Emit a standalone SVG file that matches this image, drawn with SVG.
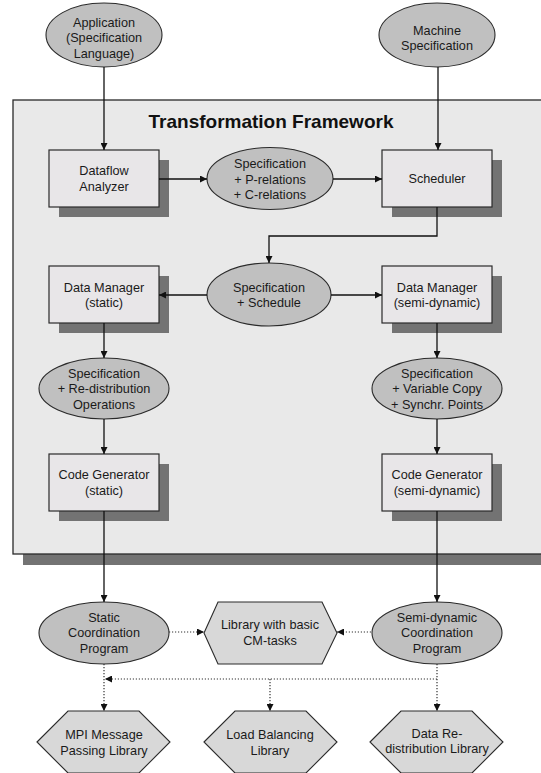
<svg xmlns="http://www.w3.org/2000/svg" width="541" height="773" viewBox="0 0 541 773">
<defs>
<marker id="ah" viewBox="0 0 10 10" refX="10" refY="5" markerWidth="7" markerHeight="7" markerUnits="userSpaceOnUse" orient="auto"><path d="M0,0 L10,5 L0,10 z" fill="#111"/></marker>
<style>
.t{font-family:"Liberation Sans",Arial,sans-serif;font-size:12.7px;fill:#1a1a1a;text-anchor:middle}
.title{font-family:"Liberation Sans",Arial,sans-serif;font-size:19px;font-weight:bold;fill:#111;text-anchor:middle}
.box{fill:#e8e6e8;stroke:#2a2a2a;stroke-width:1.2}
.sh{fill:#737373}
.ell{fill:#c0c0c0;stroke:#2a2a2a;stroke-width:1.1}
.hex{fill:#d8d8d8;stroke:#2a2a2a;stroke-width:1.1}
.ln{fill:none;stroke:#111;stroke-width:1.3}
.dt{fill:none;stroke:#333;stroke-width:1.2;stroke-dasharray:1.2 1.8}
</style>
</defs>
<rect width="541" height="773" fill="#fff"/>
<g id="framework">
<rect class="sh" x="23" y="110" width="530" height="455"/>
<rect x="13" y="100" width="540" height="454" fill="#e9e9e9" stroke="#2a2a2a" stroke-width="1.3"/>
<text class="title" x="271" y="128">Transformation Framework</text>
</g>
<g id="application">
<ellipse class="ell" cx="104" cy="35" rx="58" ry="32"/>
<text class="t" x="104" y="26.5">Application</text>
<text class="t" x="104" y="42">(Specification</text>
<text class="t" x="104" y="57.5">Language)</text>
</g>
<g id="machine">
<ellipse class="ell" cx="437" cy="35" rx="58" ry="32"/>
<text class="t" x="437" y="34.5">Machine</text>
<text class="t" x="437" y="50">Specification</text>
</g>
<g id="dataflow">
<rect class="sh" x="59" y="160" width="110" height="57"/>
<rect class="box" x="49" y="150" width="110" height="57"/>
<text class="t" x="104" y="175">Dataflow</text>
<text class="t" x="104" y="191">Analyzer</text>
</g>
<g id="spec-prel">
<ellipse class="ell" cx="270" cy="178.5" rx="63" ry="31"/>
<text class="t" x="270" y="167.5">Specification</text>
<text class="t" x="270" y="183.5">+ P-relations</text>
<text class="t" x="270" y="199">+ C-relations</text>
</g>
<g id="scheduler">
<rect class="sh" x="392" y="160" width="110" height="57"/>
<rect class="box" x="382" y="150" width="110" height="57"/>
<text class="t" x="437" y="183">Scheduler</text>
</g>
<g id="spec-schedule">
<ellipse class="ell" cx="269" cy="294.5" rx="62" ry="31.5"/>
<text class="t" x="269" y="291.5">Specification</text>
<text class="t" x="269" y="307">+ Schedule</text>
</g>
<g id="dm-static">
<rect class="sh" x="59" y="276" width="110" height="57"/>
<rect class="box" x="49" y="266" width="110" height="57"/>
<text class="t" x="104" y="291.5">Data Manager</text>
<text class="t" x="104" y="307">(static)</text>
</g>
<g id="dm-semi">
<rect class="sh" x="392" y="276" width="110" height="57"/>
<rect class="box" x="382" y="266" width="110" height="57"/>
<text class="t" x="437" y="291.5">Data Manager</text>
<text class="t" x="437" y="307">(semi-dynamic)</text>
</g>
<g id="spec-redist">
<ellipse class="ell" cx="104" cy="388.5" rx="65" ry="30.5"/>
<text class="t" x="104" y="377.5">Specification</text>
<text class="t" x="104" y="393">+ Re-distribution</text>
<text class="t" x="104" y="408.5">Operations</text>
</g>
<g id="spec-varcopy">
<ellipse class="ell" cx="437" cy="388.5" rx="65" ry="30.5"/>
<text class="t" x="437" y="377.5">Specification</text>
<text class="t" x="437" y="393">+ Variable Copy</text>
<text class="t" x="437" y="408.5">+ Synchr. Points</text>
</g>
<g id="cg-static">
<rect class="sh" x="59" y="464" width="110" height="57"/>
<rect class="box" x="49" y="454" width="110" height="57"/>
<text class="t" x="104" y="478.5">Code Generator</text>
<text class="t" x="104" y="494.5">(static)</text>
</g>
<g id="cg-semi">
<rect class="sh" x="392" y="464" width="110" height="57"/>
<rect class="box" x="382" y="454" width="110" height="57"/>
<text class="t" x="437" y="478.5">Code Generator</text>
<text class="t" x="437" y="494.5">(semi-dynamic)</text>
</g>
<g id="static-coord">
<ellipse class="ell" cx="104" cy="633" rx="65" ry="31"/>
<text class="t" x="104" y="621.5">Static</text>
<text class="t" x="104" y="637">Coordination</text>
<text class="t" x="104" y="652.5">Program</text>
</g>
<g id="cm-lib">
<polygon class="hex" points="204,633 218,602 322,602 337,633 322,664 218,664"/>
<text class="t" x="270" y="628.5">Library with basic</text>
<text class="t" x="270" y="644.5">CM-tasks</text>
</g>
<g id="semi-coord">
<ellipse class="ell" cx="437" cy="633" rx="65" ry="31"/>
<text class="t" x="437" y="621.5">Semi-dynamic</text>
<text class="t" x="437" y="637">Coordination</text>
<text class="t" x="437" y="652.5">Program</text>
</g>
<g id="mpi-lib">
<polygon class="hex" points="37,742 68,711 139,711 170,742 139,773 68,773"/>
<text class="t" x="104" y="738.5">MPI Message</text>
<text class="t" x="104" y="754.5">Passing Library</text>
</g>
<g id="lb-lib">
<polygon class="hex" points="204,742 235,711 306,711 337,742 306,773 235,773"/>
<text class="t" x="270" y="738.5">Load Balancing</text>
<text class="t" x="270" y="754.5">Library</text>
</g>
<g id="redist-lib">
<polygon class="hex" points="370,742 401,711 472,711 503,742 472,773 401,773"/>
<text class="t" x="437" y="737.5">Data Re-</text>
<text class="t" x="437" y="753">distribution Library</text>
</g>
<g id="connectors">
<path class="ln" d="M104,67 V150" marker-end="url(#ah)"/>
<path class="ln" d="M438,67 V150" marker-end="url(#ah)"/>
<path class="ln" d="M159,179 H207" marker-end="url(#ah)"/>
<path class="ln" d="M333,179 H382" marker-end="url(#ah)"/>
<path class="ln" d="M437,207 V236 H269 V263" marker-end="url(#ah)"/>
<path class="ln" d="M207,295 H159" marker-end="url(#ah)"/>
<path class="ln" d="M331,295 H382" marker-end="url(#ah)"/>
<path class="ln" d="M104,323 V358" marker-end="url(#ah)"/>
<path class="ln" d="M437,323 V358" marker-end="url(#ah)"/>
<path class="ln" d="M104,419 V454" marker-end="url(#ah)"/>
<path class="ln" d="M437,419 V454" marker-end="url(#ah)"/>
<path class="ln" d="M104,511 V602" marker-end="url(#ah)"/>
<path class="ln" d="M437,511 V602" marker-end="url(#ah)"/>
<path class="dt" d="M169,632 H204" marker-end="url(#ah)"/>
<path class="dt" d="M371,632 H337" marker-end="url(#ah)"/>
<path class="dt" d="M104,664 V711" marker-end="url(#ah)"/>
<path class="dt" d="M437,664 V711" marker-end="url(#ah)"/>
<path class="dt" d="M437,679 H105" marker-end="url(#ah)"/>
<path class="dt" d="M270,679 V711" marker-end="url(#ah)"/>
</g>
</svg>
